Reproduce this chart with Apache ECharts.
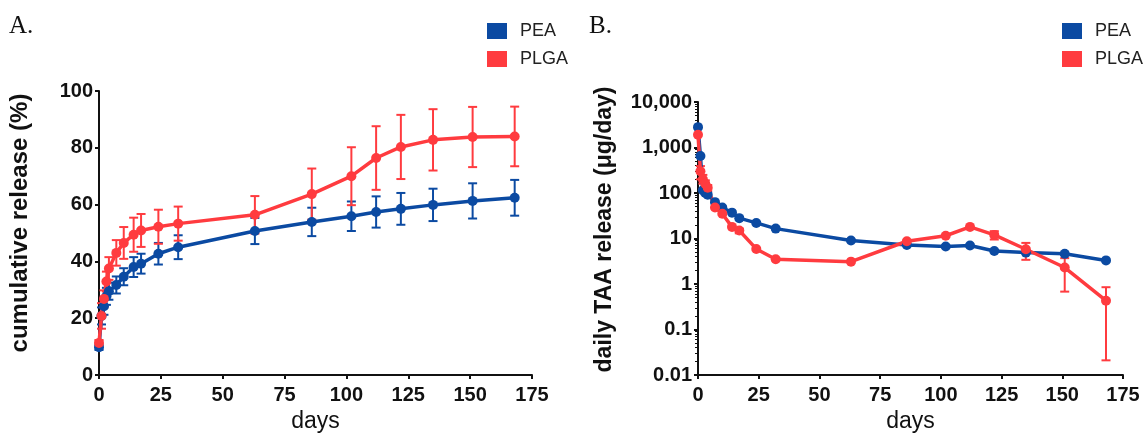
<!DOCTYPE html>
<html><head><meta charset="utf-8">
<script src="https://cdn.jsdelivr.net/npm/echarts@6/dist/echarts.min.js"></script>
<style>html,body{margin:0;padding:0;background:#fff}#c{width:1143px;height:438px}</style>
</head><body><div id="c"></div>
<script>
// ---- data ----
const days = [0, 1, 2, 3, 4, 7, 10, 14, 17, 24, 32, 63, 86, 102, 112, 122, 135, 151, 168];
// Panel A: cumulative release (%)
const peaCum     = [9.8, 20.8, 24.2, 27.7, 29.5, 31.7, 34.6, 38.0, 39.2, 42.7, 45.0, 50.7, 53.9, 55.9, 57.4, 58.5, 59.9, 61.3, 62.4];
const peaCumErr  = [1.0, 3.0, 3.0, 3.0, 3.0, 3.0, 3.0, 3.5, 3.5, 3.8, 4.2, 4.6, 5.0, 5.2, 5.5, 5.6, 5.7, 6.2, 6.3];
const plgaCum    = [11.3, 20.8, 26.8, 32.9, 37.5, 43.0, 46.5, 49.4, 50.9, 52.2, 53.3, 56.4, 63.7, 70.0, 76.4, 80.3, 82.8, 83.8, 84.0];
const plgaCumErr = [1.0, 4.5, 3.0, 3.5, 4.0, 4.5, 5.6, 6.0, 5.8, 6.0, 6.0, 6.6, 9.0, 10.2, 11.2, 11.3, 10.8, 10.6, 10.5];
// Panel B: daily release (ug/day)
const peaDaily      = [2800, 650, 115, 100, 92, 63, 48, 37, 28, 22, 16.5, 9.0, 7.2, 6.7, 7.0, 5.3, 4.9, 4.6, 3.3];
const plgaDaily     = [1900, 300, 200, 160, 130, 48, 35, 18, 15, 5.9, 3.5, 3.1, 8.7, 11.5, 18.0, 12.0, 5.8, 2.3, 0.43];
const plgaDailyLow  = [1900, 200, 160, 130, 110, 48, 35, 18, 13, 5.9, 3.5, 3.1, 8.7, 11.5, 18.0, 9.5, 3.4, 0.68, 0.021];
const plgaDailyHigh = [1900, 390, 250, 190, 150, 48, 35, 18, 16.5, 5.9, 3.5, 3.1, 8.7, 11.5, 18.0, 14.5, 8.0, 3.7, 0.85];
// ticks
const cumTicks = [0, 20, 40, 60, 80, 100];
const dayTicks = [0, 25, 50, 75, 100, 125, 150, 175];
const dailyTickValues = [0.01, 0.1, 1, 10, 100, 1000, 10000];
const dailyTickLabels = ['0.01', '0.1', '1', '10', '100', '1,000', '10,000'];
const seriesNames = ['PEA', 'PLGA'];

// ---- style ----
const BLUE = '#0b4aa2';
const RED = '#ff3b3f';
const AXIS = '#111';
const FONT = '"Liberation Sans", Arial, sans-serif';
const SERIF = '"Liberation Serif", "DejaVu Serif", serif';

function errData(lo, hi) {
  const out = [];
  days.forEach((d, i) => { if (hi[i] > lo[i]) out.push([d, lo[i], hi[i]]); });
  return out;
}
function errSeries(name, xi, yi, data, color) {
  return {
    type: 'custom', name, xAxisIndex: xi, yAxisIndex: yi, data, silent: true,
    itemStyle: { color },
    encode: { x: 0, y: [1, 2] },
    renderItem(params, api) {
      const x = api.value(0);
      const pLo = api.coord([x, api.value(1)]);
      const pHi = api.coord([x, api.value(2)]);
      const w = 4.5;
      const st = { stroke: color, lineWidth: 2 };
      return { type: 'group', children: [
        { type: 'line', shape: { x1: pLo[0], y1: pLo[1], x2: pHi[0], y2: pHi[1] }, style: st },
        { type: 'line', shape: { x1: pLo[0] - w, y1: pLo[1], x2: pLo[0] + w, y2: pLo[1] }, style: st },
        { type: 'line', shape: { x1: pHi[0] - w, y1: pHi[1], x2: pHi[0] + w, y2: pHi[1] }, style: st }
      ]};
    }
  };
}
function lineSeries(name, xi, yi, vals, color) {
  return {
    type: 'line', name, xAxisIndex: xi, yAxisIndex: yi,
    data: days.map((d, i) => [d, vals[i]]),
    symbol: 'circle', symbolSize: 10, showSymbol: true,
    lineStyle: { width: 3.5, color }, itemStyle: { color },
    emphasis: { disabled: true }, animation: false
  };
}

const xAxisCommon = {
  type: 'value', min: dayTicks[0], max: dayTicks[dayTicks.length - 1], interval: 25,
  name: 'days', nameLocation: 'middle', nameGap: 35,
  nameTextStyle: { fontFamily: FONT, fontSize: 23, color: AXIS },
  axisLine: { show: true, onZero: false, lineStyle: { color: AXIS, width: 2 } },
  axisTick: { show: true, inside: false, length: 4, lineStyle: { color: AXIS, width: 2 } },
  axisLabel: { fontFamily: FONT, fontSize: 20, fontWeight: 'bold', color: AXIS, margin: 10 },
  splitLine: { show: false }
};
const legendCommon = {
  top: 22, orient: 'vertical', icon: 'rect', itemWidth: 20, itemHeight: 16, itemGap: 10, padding: 0,
  data: seriesNames, selectedMode: false,
  textStyle: { fontFamily: FONT, fontSize: 18, color: '#222', padding: [0, 0, 0, 8] }
};

const option = {
  animation: false,
  backgroundColor: '#fff',
  title: [
    { text: 'A.', left: 4, top: 9, textStyle: { fontFamily: SERIF, fontSize: 25, fontWeight: 'normal', color: '#111' } },
    { text: 'B.', left: 584, top: 9, textStyle: { fontFamily: SERIF, fontSize: 25, fontWeight: 'normal', color: '#111' } }
  ],
  legend: [
    Object.assign({}, legendCommon, { left: 487 }),
    Object.assign({}, legendCommon, { left: 1062 })
  ],
  grid: [
    { left: 99, right: 611, top: 91, bottom: 58, containLabel: false },
    { left: 698, right: 20, top: 102, bottom: 57, containLabel: false }
  ],
  xAxis: [
    Object.assign({}, xAxisCommon, { gridIndex: 0 }),
    Object.assign({}, xAxisCommon, { gridIndex: 1 })
  ],
  yAxis: [
    { gridIndex: 0, type: 'value', min: cumTicks[0], max: cumTicks[cumTicks.length - 1], interval: 20,
      name: 'cumulative release (%)', nameLocation: 'middle', nameGap: 67,
      nameTextStyle: { fontFamily: FONT, fontSize: 24, fontWeight: 'bold', color: AXIS, padding: [0, 0, 0, 20] },
      axisLine: { show: true, lineStyle: { color: AXIS, width: 2 } },
      axisTick: { show: true, length: 4, lineStyle: { color: AXIS, width: 2 } },
      axisLabel: { fontFamily: FONT, fontSize: 20, fontWeight: 'bold', color: AXIS, margin: 6 },
      splitLine: { show: false } },
    { gridIndex: 1, type: 'log', logBase: 10, min: dailyTickValues[0], max: dailyTickValues[dailyTickValues.length - 1], splitNumber: 6,
      name: 'daily TAA release (μg/day)', nameLocation: 'middle', nameGap: 82,
      nameTextStyle: { fontFamily: FONT, fontSize: 23, fontWeight: 'bold', color: AXIS, padding: [0, 0, 0, 18] },
      axisLine: { show: true, lineStyle: { color: AXIS, width: 2 } },
      axisTick: { show: true, length: 4, lineStyle: { color: AXIS, width: 2 } },
      minorTick: { show: true, splitNumber: 9, length: 3, lineStyle: { color: AXIS, width: 1 } },
      axisLabel: { fontFamily: FONT, fontSize: 20, fontWeight: 'bold', color: AXIS, margin: 6,
        formatter: v => {
          const i = dailyTickValues.findIndex(t => Math.abs(Math.log10(t) - Math.log10(v)) < 1e-6);
          return i >= 0 ? dailyTickLabels[i] : '';
        } },
      splitLine: { show: false } }
  ],
  series: [
    errSeries('PEA', 0, 0, days.map((d, i) => [d, peaCum[i] - peaCumErr[i], peaCum[i] + peaCumErr[i]]), BLUE),
    lineSeries('PEA', 0, 0, peaCum, BLUE),
    errSeries('PLGA', 0, 0, days.map((d, i) => [d, plgaCum[i] - plgaCumErr[i], plgaCum[i] + plgaCumErr[i]]), RED),
    lineSeries('PLGA', 0, 0, plgaCum, RED),
    lineSeries('PEA', 1, 1, peaDaily, BLUE),
    errSeries('PLGA', 1, 1, errData(plgaDailyLow, plgaDailyHigh), RED),
    lineSeries('PLGA', 1, 1, plgaDaily, RED)
  ]
};

const chart = echarts.init(document.getElementById('c'), null, { renderer: 'canvas' });
chart.setOption(option);
</script>
</body></html>
